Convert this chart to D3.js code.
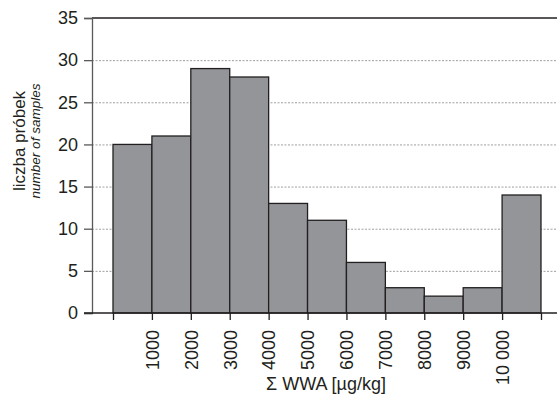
<!DOCTYPE html>
<html>
<head>
<meta charset="utf-8">
<script src="https://cdn.jsdelivr.net/npm/d3@7"></script>
<style>
  body { margin: 0; background: #fff; }
  svg text { font-family: "Liberation Sans", Arial, sans-serif; fill: #231f20; }
</style>
</head>
<body>
<div id="chart"></div>
<script>
// bin edges (µg/kg) and counts per bin
const binStart = [0, 1000, 2000, 3000, 4000, 5000, 6000, 7000, 8000, 9000, 10000]
const binEnd = [1000, 2000, 3000, 4000, 5000, 6000, 7000, 8000, 9000, 10000, 11000]
const counts = [20, 21, 29, 28, 13, 11, 6, 3, 2, 3, 14]
const xTicks = [0, 1000, 2000, 3000, 4000, 5000, 6000, 7000, 8000, 9000, 10000, 11000]
const xTickLabels = ['', '1000', '2000', '3000', '4000', '5000', '6000', '7000', '8000', '9000', '10 000', '']
const yTicks = [0, 5, 10, 15, 20, 25, 30, 35]

const W = 557, H = 396
const margin = { top: 18, right: 0, bottom: 83, left: 92 }
const width = W - margin.left - margin.right
const height = H - margin.top - margin.bottom

const svg = d3.select('#chart')
  .append('svg')
    .attr('width', W)
    .attr('height', H)

const g = svg.append('g')
    .attr('transform', `translate(${margin.left},${margin.top})`)

const x = d3.scaleLinear()
    .domain([0, 11000])
    .range([21, 449])

const y = d3.scaleLinear()
    .domain([0, 35])
    .range([height, 0])

// dotted gridlines
g.append('g')
  .selectAll('line')
  .data(yTicks.filter(d => d > 0 && d < 35))
  .join('line')
    .attr('x1', 0)
    .attr('x2', width)
    .attr('y1', d => y(d) + 0.5)
    .attr('y2', d => y(d) + 0.5)
    .attr('stroke', '#9d9fa2')
    .attr('stroke-width', 1)
    .attr('stroke-dasharray', '2,1.5')

// top frame line
g.append('line')
    .attr('x1', 0).attr('x2', width)
    .attr('y1', y(35)).attr('y2', y(35))
    .attr('stroke', '#231f20')
    .attr('stroke-width', 1.3)

// bars
const bins = counts.map((c, i) => ({ x0: binStart[i], x1: binEnd[i], count: c }))
g.append('g')
  .selectAll('rect')
  .data(bins)
  .join('rect')
    .attr('x', d => x(d.x0))
    .attr('y', d => y(d.count))
    .attr('width', d => x(d.x1) - x(d.x0))
    .attr('height', d => y(0) - y(d.count))
    .attr('fill', '#939598')
    .attr('stroke', '#231f20')
    .attr('stroke-width', 1.3)

// y axis
const yAxis = d3.axisLeft(y).tickValues(yTicks).tickSize(8).tickPadding(6)
const yG = g.append('g')
    .call(yAxis)
yG.select('.domain').attr('stroke', '#58595b').attr('stroke-width', 1.3)
yG.selectAll('.tick line').attr('stroke', '#58595b').attr('stroke-width', 1.3)
yG.selectAll('text')
    .attr('font-size', '18px')
    .attr('font-family', '"Liberation Sans", Arial, sans-serif')
    .attr('fill', '#231f20')

// x axis
const xAxis = d3.axisBottom(x)
    .tickValues(xTicks)
    .tickSize(7)
    .tickFormat((d, i) => xTickLabels[i])
const xG = g.append('g')
    .attr('transform', `translate(0,${height})`)
    .call(xAxis)
xG.select('.domain').remove()
xG.append('line')
    .attr('x1', -8).attr('x2', width)
    .attr('y1', 0).attr('y2', 0)
    .attr('stroke', '#231f20')
    .attr('stroke-width', 1.5)
xG.selectAll('.tick line').attr('stroke', '#231f20').attr('stroke-width', 1.3)
xG.selectAll('.tick text')
    .attr('font-size', '18px')
    .attr('font-family', '"Liberation Sans", Arial, sans-serif')
    .attr('fill', '#231f20')
    .attr('text-anchor', 'end')
    .attr('transform', 'rotate(-90)')
    .attr('x', -17)
    .attr('y', 0)
    .attr('dy', '0.35em')

// axis titles
svg.append('text')
    .attr('x', 326)
    .attr('y', 390)
    .attr('text-anchor', 'middle')
    .attr('font-size', '18px')
    .text('Σ WWA [µg/kg]')

svg.append('text')
    .attr('transform', 'translate(25,141) rotate(-90)')
    .attr('text-anchor', 'middle')
    .attr('font-size', '17px')
    .text('liczba próbek')

svg.append('text')
    .attr('transform', 'translate(40,141) rotate(-90)')
    .attr('text-anchor', 'middle')
    .attr('font-size', '13.5px')
    .attr('font-style', 'italic')
    .text('number of samples')
</script>
</body>
</html>
